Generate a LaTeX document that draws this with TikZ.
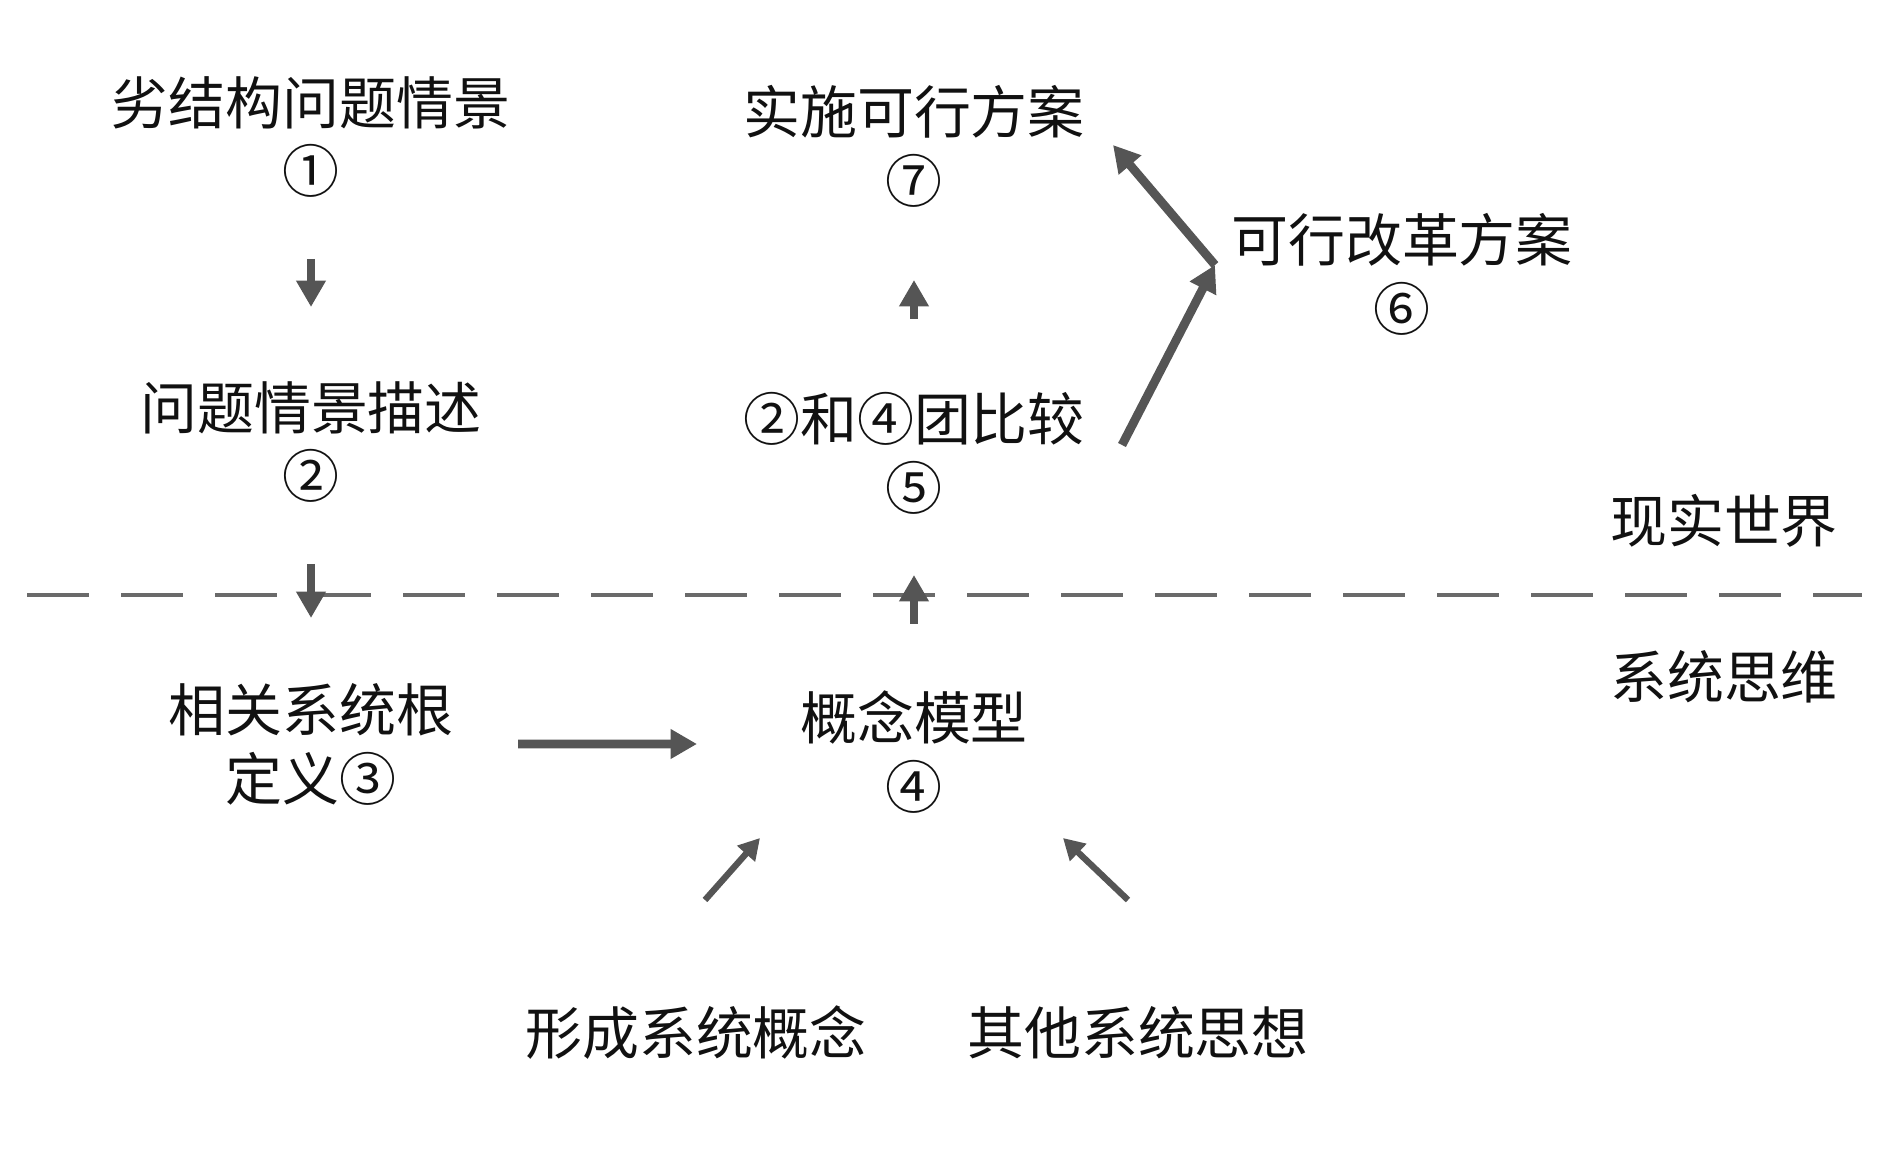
\documentclass[tikz,border=0pt]{standalone}
\usepackage{fontspec}
\usepackage{tikz}
\usetikzlibrary{arrows.meta, positioning, calc}
\newfontfamily\cjk{Noto Sans CJK SC}
\definecolor{arrowGray}{HTML}{555555}
\definecolor{lineGray}{HTML}{6A6A6A}
\definecolor{labelText}{HTML}{111111}

\begin{document}
\begin{tikzpicture}[
  font=\cjk\fontsize{16.2}{19.6}\selectfont,
  stage/.style ={align=center, inner sep=0pt, text=labelText},
  world/.style ={inner sep=0pt, text=labelText},
  flow/.style  ={-{Triangle[width=8pt,length=7.5pt]}, draw=arrowGray, line width=2.5pt},
  feed/.style  ={-{Triangle[width=6.5pt,length=6pt]}, draw=arrowGray, line width=1.8pt},
  divide/.style={draw=lineGray, line width=0.9pt, dash pattern=on 6.2mm off 3.2mm},
]
\useasboundingbox (0,0) rectangle (18.9,-11.67);
% ----- real world -----
\node[stage] (ill)  at (3.11,-1.37)  {劣结构问题情景\\①};
\node[stage] (desc) at (3.11,-4.42)  {问题情景描述\\②};
\node[stage] (cmp)  at (9.14,-4.53)  {②和④团比较\\⑤};
\node[stage] (impl) at (9.14,-1.46)  {实施可行方案\\⑦};
\node[stage] (plan) at (14.02,-2.74) {可行改革方案\\⑥};
\node[world] (real) at (17.24,-5.21) {现实世界};
% ----- divide -----
\coordinate (lineL) at (0.27,-5.95);
\coordinate (lineR) at (18.62,-5.95);
\draw[divide] (lineL) -- (lineR);
% ----- systems thinking -----
\node[world] (sys)   at (17.24,-6.77) {系统思维};
\node[stage] (root)  at (3.11,-7.44)  {相关系统根\\定义③};
\node[stage] (model) at (9.14,-7.52)  {概念模型\\④};
\node[stage] (form)  at (6.96,-10.33) {形成系统概念};
\node[stage] (other) at (11.38,-10.33) {其他系统思想};
% ----- flows -----
\draw[flow] ([yshift=-12.2mm]ill.center) -- ([yshift=13.5mm]desc.center);
\draw[flow] ([yshift=-12.2mm]desc.center) -- ([yshift=12.6mm]root.center);
\draw[flow] ([xshift=20.7mm]root.center) -- ([shift={(-2.17,0.08)}]model.center);
\draw[flow] ([yshift=12.8mm]model.center) -- ([yshift=-12.2mm]cmp.center);
\draw[flow] ([yshift=13.4mm]cmp.center) -- ([yshift=-13.4mm]impl.center);
\coordinate (fork) at ([shift={(-1.87,0.09)}]plan.center);
\draw[flow] ([shift={(2.08,0.08)}]cmp.center) -- (fork);
\draw[flow] (fork) -- ([shift={(1.99,0.01)}]impl.center);
\draw[feed] ([shift={(0.09,1.33)}]form.center) -- ([shift={(-1.54,-0.86)}]model.center);
\draw[feed] ([shift={(-0.10,1.33)}]other.center) -- ([shift={(1.49,-0.86)}]model.center);
\end{tikzpicture}
\end{document}
